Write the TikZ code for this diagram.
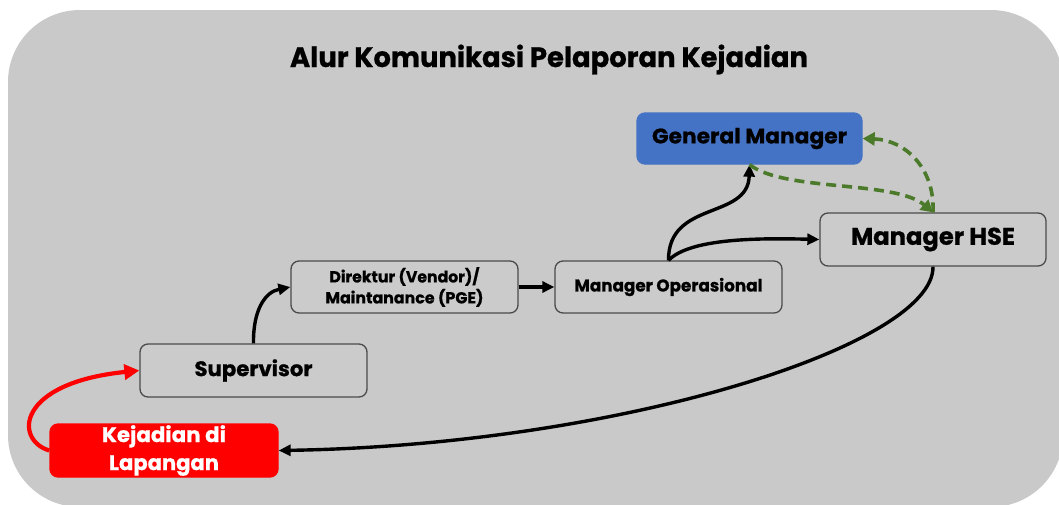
\documentclass[tikz,border=0pt]{standalone}
\usepackage{fontspec}
\usepackage{graphicx}
\setmainfont{Poppins}[BoldFeatures={FakeBold=0.8}]
\usetikzlibrary{arrows.meta}
\definecolor{bgc}{HTML}{C9C9C9}
\definecolor{boxc}{HTML}{CBCBCB}
\definecolor{edgec}{HTML}{4A4A4A}
\definecolor{gmblue}{HTML}{4472C4}
\definecolor{kred}{HTML}{FF0000}
\definecolor{dgreen}{HTML}{4B7A2A}
\newlength\fitlen
\newcommand\fitw[2]{\settowidth{\fitlen}{#2}\pgfmathsetmacro\fitsx{#1/\fitlen}\scalebox{\fitsx}[1]{#2}}
\tikzset{
  flowbox/.style={draw=edgec, line width=1.3pt, rounded corners=8pt, fill=boxc, inner sep=0pt, text=black},
  conn/.style={draw=black, line width=3.4pt, -{Triangle[length=12pt,width=11pt]}},
  redconn/.style={draw=kred, line width=4.2pt, -{Triangle[length=15pt,width=15pt]}},
  greenconn/.style={draw=dgreen, line width=3.6pt, dash pattern=on 10pt off 6pt, -{Triangle[length=12pt,width=13pt]}}
}
\begin{document}
\begin{tikzpicture}[x=1pt,y=-1pt]
\useasboundingbox (0,0) rectangle (1059,504);
\fill[white] (0,0) rectangle (1059,504);
\fill[bgc, rounded corners=72pt] (8,10) rectangle (1063,507);

\node[font=\bfseries\fontsize{28}{30}\selectfont, inner sep=0pt, anchor=base] (title) at (549,67) {\fitw{518}{Alur Komunikasi Pelaporan Kejadian}};

\node[flowbox, fill=gmblue, draw=gmblue, minimum width=225pt, minimum height=51pt, font=\bfseries\fontsize{21}{23}\selectfont] (gm) at (749.5,138.5) {\fitw{195}{General Manager}};
\node[flowbox, minimum width=226pt, minimum height=53pt, font=\bfseries\fontsize{24}{26}\selectfont] (hse) at (933,239.5) {\fitw{164}{Manager HSE}};
\node[flowbox, minimum width=227pt, minimum height=52pt, font=\bfseries\fontsize{17}{19}\selectfont] (mo) at (668.5,287) {\fitw{188}{Manager Operasional}};
\node[flowbox, minimum width=227pt, minimum height=52pt, align=center, font=\bfseries\fontsize{16}{21}\selectfont] (dir) at (404.5,287) {\fitw{150}{Direktur (Vendor)/}\\\fitw{158}{Maintanance (PGE)}};
\node[flowbox, minimum width=227pt, minimum height=53pt, font=\bfseries\fontsize{21}{23}\selectfont] (sup) at (253.5,370.5) {\fitw{118}{Supervisor}};
\node[flowbox, fill=kred, draw=kred, text=white, minimum width=228pt, minimum height=53pt, align=center, font=\bfseries\fontsize{21}{28}\selectfont] (kej) at (164,450.5) {\fitw{124}{Kejadian di}\\\fitw{110}{Lapangan}};

% connectors
\draw[redconn] (kej.west) .. controls (14,440) and (16,383) .. (sup.west);
\draw[conn] (sup.north) .. controls (253,310) and (265,292) .. (dir.west);
\draw[conn] (dir.east) -- (mo.west);
\draw[conn] (mo.north) .. controls (668,200) and (748,220) .. (gm.south);
\draw[conn] (mo.north) .. controls (690,238) and (760,238) .. (hse.west);
\draw[conn] (hse.south) .. controls (934,345) and (620,445) .. (kej.east);
\draw[greenconn] (gm.south) .. controls (785,192) and (895,180) .. (hse.north);
\draw[greenconn] (hse.north) .. controls (935,168) and (905,140) .. (gm.east);
\end{tikzpicture}
\end{document}
